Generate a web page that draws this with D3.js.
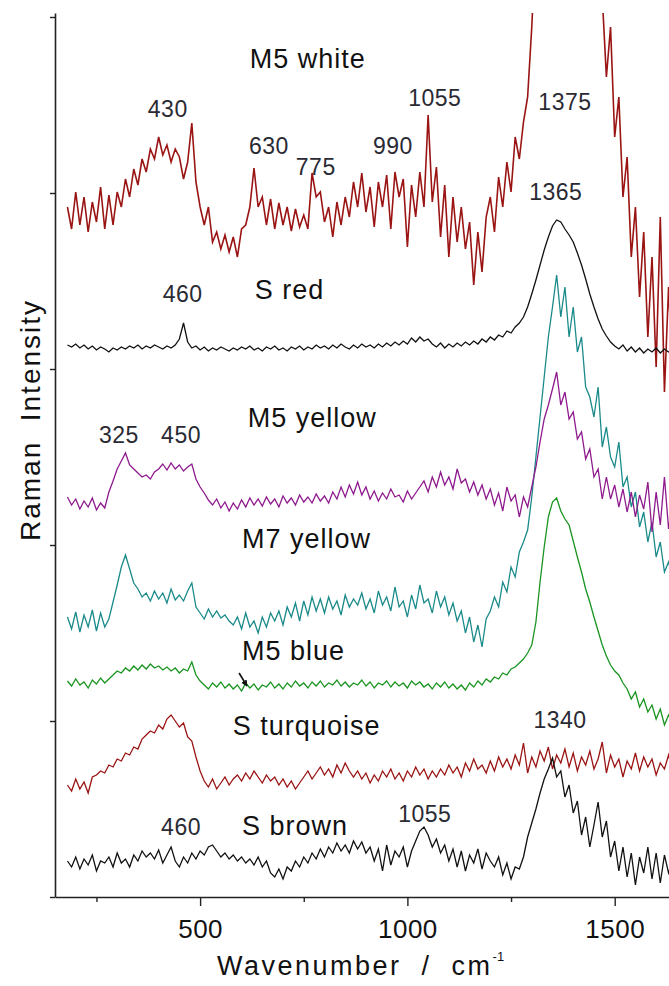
<!DOCTYPE html>
<html>
<head>
<meta charset="utf-8">
<script src="https://cdn.jsdelivr.net/npm/d3@7"></script>
<style>
  body { margin: 0; background: #fff; }
  svg { display: block; }
</style>
</head>
<body>
<svg id="chart"></svg>
<script>
// wavenumber grid of the spectra (cm-1)
const wavenumbers = d3.range(180, 1641, 10);

// intensities, already offset the way the spectra are stacked
const m5White = [
  690,668,705,672,700,665,695,675,710,668,
  702,672,705,690,718,700,728,712,738,725,
  748,738,760,742,752,735,748,740,718,735,
  774,715,690,672,690,655,665,648,662,645,
  660,640,668,672,690,729,690,700,672,698,
  668,694,672,690,666,688,670,682,668,724,
  700,705,675,690,660,695,672,700,680,715,
  690,724,685,710,670,715,690,722,668,725,
  700,718,650,712,680,725,690,782,695,730,
  660,712,640,700,655,690,648,675,612,665,
  625,680,700,665,720,690,735,705,760,738,
  775,800,870,960,1040,1110,1170,1210,1240,1250,
  1240,1215,1180,1140,1090,1040,990,945,920,900,
  820,870,760,800,700,740,640,690,600,665,
  560,640,530,680,505,610,520];

const sRed = [
  552,550,553,549,552,548,551,547,550,548,
  545,549,547,550,548,551,549,552,548,551,
  549,552,550,548,551,549,552,558,574,555,
  549,551,547,550,546,549,547,550,548,546,
  549,547,550,548,551,547,549,546,550,548,
  551,547,549,546,550,548,551,547,550,548,
  552,549,551,548,552,549,553,550,548,552,
  549,553,550,552,549,553,550,554,551,555,
  552,556,553,559,555,560,556,558,553,550,
  554,549,553,550,554,551,555,552,556,553,
  558,555,560,557,562,560,566,564,570,574,
  580,590,603,617,632,647,660,671,677,675,
  668,662,655,644,632,618,603,590,578,568,
  561,555,551,548,552,546,550,545,549,544,
  548,545,549,544,548,545,547];

const m5Yellow = [
  400,392,398,388,396,390,399,387,394,389,
  405,416,428,436,444,432,428,424,420,422,
  418,425,428,433,427,434,428,432,426,430,
  433,418,410,404,397,392,398,389,395,386,
  394,388,397,390,399,392,398,391,400,393,
  398,390,401,394,399,392,402,395,400,394,
  403,396,401,394,405,398,410,400,412,403,
  415,402,410,398,406,396,404,398,408,400,
  402,395,406,398,404,410,416,405,420,410,
  425,412,420,408,428,414,418,405,415,402,
  412,398,408,392,404,386,410,396,402,380,
  400,390,410,430,455,478,492,508,525,492,
  505,478,485,458,465,438,448,420,428,398,
  420,398,412,390,408,385,405,380,402,388,
  415,365,405,372,420,368,400];

const m7Yellow = [
  280,268,285,265,282,270,287,266,284,270,
  278,295,312,330,342,328,314,308,300,304,
  296,306,298,304,294,308,297,302,296,306,
  314,290,284,278,288,280,286,279,282,276,
  272,280,268,284,270,276,264,280,270,284,
  276,286,272,290,280,294,276,296,282,300,
  286,298,284,300,288,296,282,302,290,298,
  292,304,288,298,284,306,292,300,286,310,
  290,296,280,302,288,312,294,298,284,306,
  290,300,282,294,276,286,264,280,255,272,
  250,278,286,300,290,315,305,330,320,345,
  355,367,400,440,480,520,560,590,622,580,
  610,560,590,545,560,510,500,480,510,450,
  470,440,430,455,410,420,390,405,370,385,
  355,375,340,355,325,335,320];

const m5Blue = [
  216,211,218,212,215,209,217,213,219,214,
  218,222,226,224,229,226,231,227,232,228,
  233,229,231,227,230,226,229,224,228,226,
  235,222,216,212,208,214,210,215,209,213,
  208,212,206,214,209,213,207,212,210,215,
  209,213,208,214,210,216,211,214,209,215,
  211,216,210,214,212,217,211,215,210,214,
  212,217,211,215,209,214,212,216,210,215,
  211,214,209,216,212,215,210,213,208,214,
  210,215,209,213,208,212,207,214,210,216,
  212,218,215,220,218,224,222,228,230,234,
  238,244,252,275,315,350,380,395,399,386,
  378,372,356,340,325,308,295,280,266,252,
  241,232,226,222,214,208,198,205,190,198,
  185,192,178,188,172,182,175];

const sTurquoise = [
  112,106,118,108,115,104,120,122,126,124,
  132,130,138,136,144,142,150,148,158,162,
  166,164,172,168,178,182,176,170,174,160,
  156,140,126,116,110,118,108,114,120,112,
  118,122,116,124,118,126,120,114,122,116,
  120,112,118,110,116,108,114,120,126,118,
  124,130,122,128,120,132,124,134,126,120,
  126,118,124,114,122,116,126,120,128,118,
  124,116,126,120,130,122,128,118,126,120,
  128,122,132,124,130,120,134,126,138,128,
  132,124,136,126,140,130,138,128,142,132,
  154,124,140,130,146,136,150,128,142,134,
  148,130,144,126,140,132,146,128,138,155,
  124,142,130,138,120,136,128,144,126,140,
  130,138,122,134,128,142,126];

const sBrown = [
  36,30,40,28,38,32,42,26,36,34,
  40,30,44,34,38,30,42,36,46,40,
  44,38,47,34,42,50,36,30,40,34,
  44,38,46,42,50,52,46,40,44,38,
  42,36,40,34,38,32,40,30,36,24,
  20,28,18,30,26,36,30,40,34,44,
  38,48,40,50,44,54,46,52,44,56,
  48,55,44,50,36,48,26,52,32,46,
  40,50,30,46,56,66,70,62,50,58,
  44,52,36,48,30,46,26,42,34,48,
  28,44,36,30,40,22,34,18,30,28,
  40,60,74,88,104,118,128,139,120,126,
  100,112,84,96,62,80,50,72,95,60,
  76,40,56,26,50,20,44,12,40,24,
  50,18,44,14,42,24,36];

const seriesNames  = ["M5 white", "S red", "M7 yellow", "M5 yellow", "M5 blue", "S turquoise", "S brown"];
const seriesValues = [m5White, sRed, m7Yellow, m5Yellow, m5Blue, sTurquoise, sBrown];
const seriesColors = ["#9a1414", "#111111", "#1b8a8a", "#8e1a8e", "#1a9420", "#9a1414", "#111111"];

// name labels: wavenumber where the text starts, intensity of its baseline
const nameLabels = ["M5 white", "S red", "M5 yellow", "M7 yellow", "M5 blue", "S turquoise", "S brown"];
const nameLabelW = [620, 632, 615, 601, 601, 579, 601];
const nameLabelI = [829, 598, 470, 349, 237, 162, 62];

// peak labels: centre wavenumber, baseline intensity
const peakLabels = ["430", "630", "775", "990", "1055", "1375", "1365", "460", "325", "450", "1340", "460", "1055"];
const peakLabelW = [422, 666, 779, 965, 1066, 1380, 1358, 458, 304, 454, 1368, 454, 1042];
const peakLabelI = [780, 743, 722, 743, 791, 787, 697, 595, 454, 454, 169, 62, 75];

const xMajorTicks = [500, 1000, 1500];
const xMinorTicks = [250, 750, 1250];
const yTicks = [0, 176, 352, 528, 704, 880];

const width = 669, height = 986;
const plot = {left: 55, right: 669, top: 13, bottom: 897};

const svg = d3.select("#chart")
  .attr("width", width)
  .attr("height", height)
  .style("font-family", "'Liberation Sans', Arial, sans-serif");

const x = d3.scaleLinear().domain([150, 1631]).range([plot.left, plot.right]);
const y = d3.scaleLinear().domain([0, 884]).range([plot.bottom, plot.top]);

svg.append("defs").append("clipPath")
  .attr("id", "plotclip")
  .append("rect")
  .attr("x", plot.left)
  .attr("y", plot.top)
  .attr("width", plot.right - plot.left)
  .attr("height", plot.bottom - plot.top);

svg.append("defs").append("marker")
  .attr("id", "arrowhead")
  .attr("viewBox", "0 0 10 10")
  .attr("refX", 9).attr("refY", 5)
  .attr("markerWidth", 4).attr("markerHeight", 4)
  .attr("orient", "auto")
  .append("path")
  .attr("d", "M0,0 L10,5 L0,10 z")
  .attr("fill", "#111");

// spectra
const line = d3.line()
  .x((d, i) => x(wavenumbers[i]))
  .y(d => y(d));

const spectra = svg.append("g").attr("clip-path", "url(#plotclip)");
spectra.selectAll("path")
  .data(seriesValues)
  .join("path")
  .attr("d", d => line(d))
  .attr("fill", "none")
  .attr("stroke", (d, i) => seriesColors[i])
  .attr("stroke-width", (d, i) => i === 0 ? 1.6 : 1.3)
  .attr("stroke-linejoin", "miter");

// small arrow next to M5 blue
svg.append("line")
  .attr("x1", x(594)).attr("y1", y(224))
  .attr("x2", x(613)).attr("y2", y(211))
  .attr("stroke", "#111")
  .attr("stroke-width", 1.6)
  .attr("marker-end", "url(#arrowhead)");

// axes
const xAxis = svg.append("g")
  .attr("transform", `translate(0,${plot.bottom})`)
  .call(d3.axisBottom(x).tickValues(xMajorTicks).tickSize(9).tickSizeOuter(0).tickFormat(d3.format("d")));
xAxis.selectAll("text")
  .attr("y", 41).attr("dy", 0)
  .style("font-size", "26px")
  .style("letter-spacing", "0.5px")
  .attr("fill", "#111");

svg.append("g")
  .attr("transform", `translate(0,${plot.bottom})`)
  .call(d3.axisBottom(x).tickValues(xMinorTicks).tickSize(5).tickFormat("").tickSizeOuter(0))
  .call(g => g.select(".domain").remove());

svg.append("g")
  .attr("transform", `translate(${plot.left},0)`)
  .call(d3.axisLeft(y).tickValues(yTicks).tickSize(5).tickFormat("").tickSizeOuter(0));

svg.selectAll(".domain").attr("stroke", "#222").attr("stroke-width", 1.6);
svg.selectAll(".tick line").attr("stroke", "#222").attr("stroke-width", 1.4);

// axis titles
svg.append("text")
  .attr("transform", "translate(40,420) rotate(-90)")
  .attr("text-anchor", "middle")
  .style("font-size", "28px")
  .style("letter-spacing", "2px")
  .style("white-space", "pre")
  .attr("fill", "#111")
  .text("Raman  Intensity");

const xTitle = svg.append("text")
  .attr("x", 217).attr("y", 975)
  .style("font-size", "27px")
  .style("letter-spacing", "2.5px")
  .style("white-space", "pre")
  .attr("fill", "#111");
xTitle.append("tspan").text("Wavenumber  /  cm");
xTitle.append("tspan")
  .attr("dy", -14)
  .style("font-size", "13px")
  .style("letter-spacing", "0px")
  .text("-1");

// labels
svg.append("g").selectAll("text")
  .data(nameLabels)
  .join("text")
  .attr("x", (d, i) => x(nameLabelW[i]))
  .attr("y", (d, i) => y(nameLabelI[i]))
  .style("font-size", "27px")
  .style("letter-spacing", "1px")
  .attr("fill", "#111")
  .text(d => d);

svg.append("g").selectAll("text")
  .data(peakLabels)
  .join("text")
  .attr("x", (d, i) => x(peakLabelW[i]))
  .attr("y", (d, i) => y(peakLabelI[i]))
  .attr("text-anchor", "middle")
  .style("font-size", "23px")
  .style("letter-spacing", "0.5px")
  .attr("fill", "#2a2a33")
  .text(d => d);
</script>
</body>
</html>
